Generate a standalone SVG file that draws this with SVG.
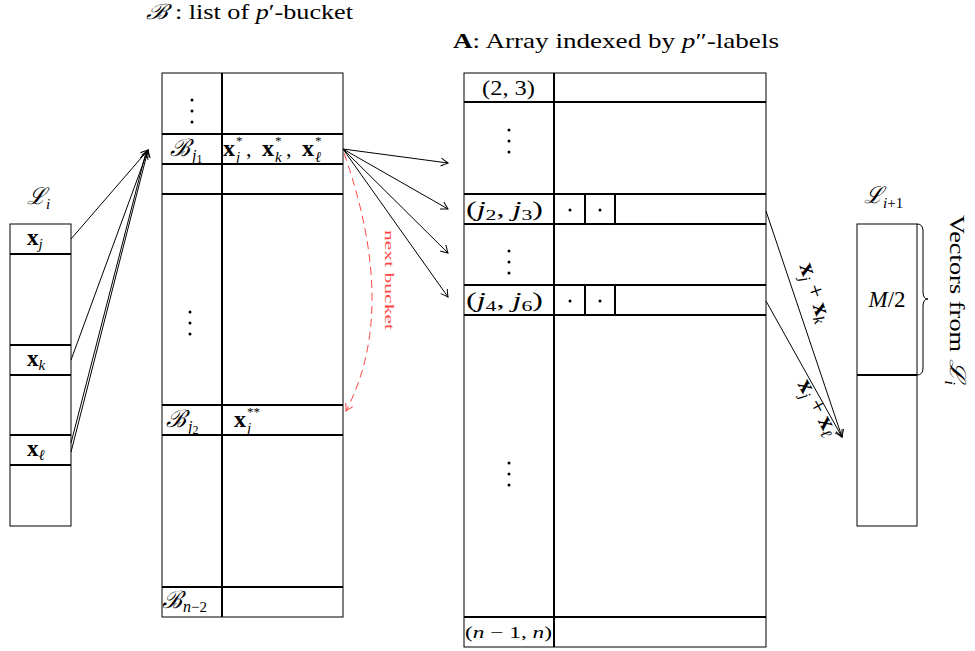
<svg xmlns="http://www.w3.org/2000/svg" width="975" height="651" viewBox="0 0 975 651">
<style>
.t{font-family:"Liberation Serif","DejaVu Serif",serif;fill:#000}
.b{font-weight:bold}
.i{font-style:italic}
.c{font-family:"DejaVu Serif",serif;font-style:italic}
.box{fill:#fff;stroke:#000;stroke-width:1}
.thick{stroke:#000;stroke-width:2;fill:none}
.conn{stroke:#000;stroke-width:1;fill:none}
.red{stroke:#f44;stroke-width:1;fill:none;stroke-dasharray:8 5}
.dot{fill:#000}
</style>
<defs>
<marker id="ah" viewBox="-8 -6 10 12" markerWidth="10" markerHeight="12" refX="0" refY="0" orient="auto" markerUnits="userSpaceOnUse"><path d="M-7,-4 Q-2,-1 0,0 Q-2,1 -7,4" fill="none" stroke="#000" stroke-width="1"/></marker>
<marker id="ahr" viewBox="-8 -6 10 12" markerWidth="10" markerHeight="12" refX="0" refY="0" orient="auto" markerUnits="userSpaceOnUse"><path d="M-7,-4 Q-2,-1 0,0 Q-2,1 -7,4" fill="none" stroke="#f44" stroke-width="1"/></marker>
</defs>

<g id="titles">
<text class="t" x="146" y="19" font-size="21" textLength="207" lengthAdjust="spacingAndGlyphs"><tspan class="c">ℬ</tspan> : list of <tspan class="i">p</tspan>′-bucket</text>
<text class="t" x="453" y="48" font-size="21" textLength="326" lengthAdjust="spacingAndGlyphs"><tspan class="b">A</tspan>: Array indexed by <tspan class="i">p</tspan>″-labels</text>
</g>

<g id="Li">
<text class="t" x="27" y="204" font-size="23"><tspan class="c">ℒ</tspan><tspan class="i" font-size="15" dy="5">i</tspan></text>
<rect class="box" x="10" y="224" width="61" height="302"/>
<line class="thick" x1="10" y1="254" x2="71" y2="254"/>
<line class="thick" x1="10" y1="345" x2="71" y2="345"/>
<line class="thick" x1="10" y1="375" x2="71" y2="375"/>
<line class="thick" x1="10" y1="435" x2="71" y2="435"/>
<line class="thick" x1="10" y1="465" x2="71" y2="465"/>
<text class="t" x="27" y="245" font-size="23"><tspan class="b">x</tspan><tspan class="i" font-size="15" dy="4">j</tspan></text>
<text class="t" x="27" y="366" font-size="23"><tspan class="b">x</tspan><tspan class="i" font-size="15" dy="4">k</tspan></text>
<text class="t" x="27" y="456" font-size="23"><tspan class="b">x</tspan><tspan class="i" font-size="15" dy="4">ℓ</tspan></text>
</g>

<g id="B">
<rect class="box" x="162" y="73" width="181" height="544"/>
<line class="thick" x1="222" y1="73" x2="222" y2="617"/>
<line class="thick" x1="162" y1="134" x2="343" y2="134"/>
<line class="thick" x1="162" y1="164" x2="343" y2="164"/>
<line class="thick" x1="162" y1="194" x2="343" y2="194"/>
<line class="thick" x1="162" y1="405" x2="343" y2="405"/>
<line class="thick" x1="162" y1="435" x2="343" y2="435"/>
<line class="thick" x1="162" y1="587" x2="343" y2="587"/>
<circle class="dot" cx="192" cy="100" r="1.5"/><circle class="dot" cx="192" cy="111" r="1.5"/><circle class="dot" cx="192" cy="122" r="1.5"/>
<circle class="dot" cx="190" cy="312" r="1.5"/><circle class="dot" cx="190" cy="323" r="1.5"/><circle class="dot" cx="190" cy="334" r="1.5"/>
<text class="t" x="170" y="156" font-size="24"><tspan class="c">ℬ</tspan><tspan class="i" font-size="16" dx="2" dy="5">j</tspan><tspan font-size="12" dy="2">1</tspan></text>
<text class="t b" x="223" y="156" font-size="24">x</text>
<text class="t" x="236" y="145" font-size="13">*</text>
<text class="t i" x="236" y="162" font-size="15">j</text>
<text class="t" x="246" y="156" font-size="22">,</text>
<text class="t b" x="262" y="156" font-size="24">x</text>
<text class="t" x="275" y="145" font-size="13">*</text>
<text class="t i" x="275" y="162" font-size="15">k</text>
<text class="t" x="286" y="156" font-size="22">,</text>
<text class="t b" x="302" y="156" font-size="24">x</text>
<text class="t" x="315" y="145" font-size="13">*</text>
<text class="t i" x="315" y="162" font-size="15">ℓ</text>
<text class="t" x="166" y="427" font-size="24"><tspan class="c">ℬ</tspan><tspan class="i" font-size="16" dx="2" dy="5">j</tspan><tspan font-size="12" dy="2">2</tspan></text>
<text class="t b" x="234" y="427" font-size="24">x</text>
<text class="t" x="247" y="416" font-size="13">**</text>
<text class="t i" x="247" y="433" font-size="15">j</text>
<text class="t" x="162" y="608" font-size="24"><tspan class="c">ℬ</tspan><tspan class="i" font-size="16" dx="1" dy="4">n</tspan><tspan font-size="15">−2</tspan></text>
</g>

<g id="A">
<rect class="box" x="464" y="73" width="302" height="574"/>
<line class="thick" x1="554" y1="73" x2="554" y2="647"/>
<line class="thick" x1="464" y1="102" x2="766" y2="102"/>
<line class="thick" x1="464" y1="194" x2="766" y2="194"/>
<line class="thick" x1="464" y1="224" x2="766" y2="224"/>
<line class="thick" x1="464" y1="285" x2="766" y2="285"/>
<line class="thick" x1="464" y1="315" x2="766" y2="315"/>
<line class="thick" x1="464" y1="617" x2="766" y2="617"/>
<line class="thick" x1="585" y1="194" x2="585" y2="224"/>
<line class="thick" x1="615" y1="194" x2="615" y2="224"/>
<line class="thick" x1="585" y1="285" x2="585" y2="315"/>
<line class="thick" x1="615" y1="285" x2="615" y2="315"/>
<circle class="dot" cx="570" cy="210" r="1.5"/><circle class="dot" cx="600" cy="210" r="1.5"/>
<circle class="dot" cx="570" cy="301" r="1.5"/><circle class="dot" cx="600" cy="301" r="1.5"/>
<circle class="dot" cx="509" cy="130" r="1.5"/><circle class="dot" cx="509" cy="141" r="1.5"/><circle class="dot" cx="509" cy="152" r="1.5"/>
<circle class="dot" cx="509" cy="251" r="1.5"/><circle class="dot" cx="509" cy="262" r="1.5"/><circle class="dot" cx="509" cy="273" r="1.5"/>
<circle class="dot" cx="509" cy="463" r="1.5"/><circle class="dot" cx="509" cy="474" r="1.5"/><circle class="dot" cx="509" cy="485" r="1.5"/>
<text class="t" x="482" y="95" font-size="22" textLength="53" lengthAdjust="spacingAndGlyphs">(2, 3)</text>
<text class="t" x="466" y="216" font-size="22" textLength="77" lengthAdjust="spacingAndGlyphs">(<tspan class="i">j</tspan><tspan font-size="15" dy="4">2</tspan><tspan dy="-4">, </tspan><tspan class="i">j</tspan><tspan font-size="15" dy="4">3</tspan><tspan dy="-4">)</tspan></text>
<text class="t" x="466" y="307" font-size="22" textLength="77" lengthAdjust="spacingAndGlyphs">(<tspan class="i">j</tspan><tspan font-size="15" dy="4">4</tspan><tspan dy="-4">, </tspan><tspan class="i">j</tspan><tspan font-size="15" dy="4">6</tspan><tspan dy="-4">)</tspan></text>
<text class="t" x="465" y="638" font-size="16" textLength="87" lengthAdjust="spacingAndGlyphs">(<tspan class="i">n</tspan> − 1, <tspan class="i">n</tspan>)</text>
</g>

<g id="Li1">
<text class="t" x="864" y="203" font-size="23"><tspan class="c">ℒ</tspan><tspan class="i" font-size="15" dy="5">i</tspan><tspan font-size="15">+1</tspan></text>
<rect class="box" x="857" y="224" width="60" height="302"/>
<line class="thick" x1="857" y1="375" x2="917" y2="375"/>
<text class="t" x="887" y="307" font-size="23" text-anchor="middle"><tspan class="i">M</tspan>/2</text>
<path class="conn" d="M917,224 q6,0 6,7 L923,292 q0,7 5,7 q-5,0 -5,7 L923,368 q0,7 -6,7"/>
<text class="t" font-size="22" transform="translate(950,215) rotate(90)" textLength="170" lengthAdjust="spacingAndGlyphs">Vectors from <tspan class="c">ℒ</tspan><tspan class="i" font-size="14" dy="5">i</tspan></text>
</g>

<g id="connectors">
<line class="conn" x1="71" y1="239" x2="148" y2="150" marker-end="url(#ah)"/>
<line class="conn" x1="71" y1="360" x2="148" y2="150" marker-end="url(#ah)"/>
<line class="conn" x1="71" y1="443" x2="146" y2="152" marker-end="url(#ah)"/>
<line class="conn" x1="71" y1="452" x2="148" y2="150" marker-end="url(#ah)"/>
<line class="conn" x1="343" y1="149" x2="448" y2="163" marker-end="url(#ah)"/>
<line class="conn" x1="343" y1="149" x2="448" y2="209" marker-end="url(#ah)"/>
<line class="conn" x1="343" y1="149" x2="448" y2="253" marker-end="url(#ah)"/>
<line class="conn" x1="343" y1="149" x2="448" y2="297" marker-end="url(#ah)"/>
<path class="red" d="M344,153 Q399,310 346,411" marker-end="url(#ahr)"/>
<text class="t" font-size="13" style="fill:#f44" transform="translate(385,230) rotate(90)" textLength="100" lengthAdjust="spacingAndGlyphs">next bucket</text>
<line class="conn" x1="766" y1="211" x2="842" y2="437" marker-end="url(#ah)"/>
<line class="conn" x1="766" y1="301" x2="842" y2="437" marker-end="url(#ah)"/>
<text class="t" font-size="24" transform="translate(808,295) rotate(71.4)" text-anchor="middle" y="-1"><tspan class="b">x</tspan><tspan class="i" font-size="16" dy="4">j</tspan><tspan dy="-4" dx="6">+</tspan><tspan class="b" dx="6">x</tspan><tspan class="i" font-size="16" dy="4">k</tspan></text>
<text class="t" font-size="24" transform="translate(811,411) rotate(61)" text-anchor="middle" y="-1"><tspan class="b">x</tspan><tspan class="i" font-size="16" dy="4">j</tspan><tspan dy="-4" dx="6">+</tspan><tspan class="b" dx="6">x</tspan><tspan class="i" font-size="16" dy="4">ℓ</tspan></text>
</g>
</svg>
